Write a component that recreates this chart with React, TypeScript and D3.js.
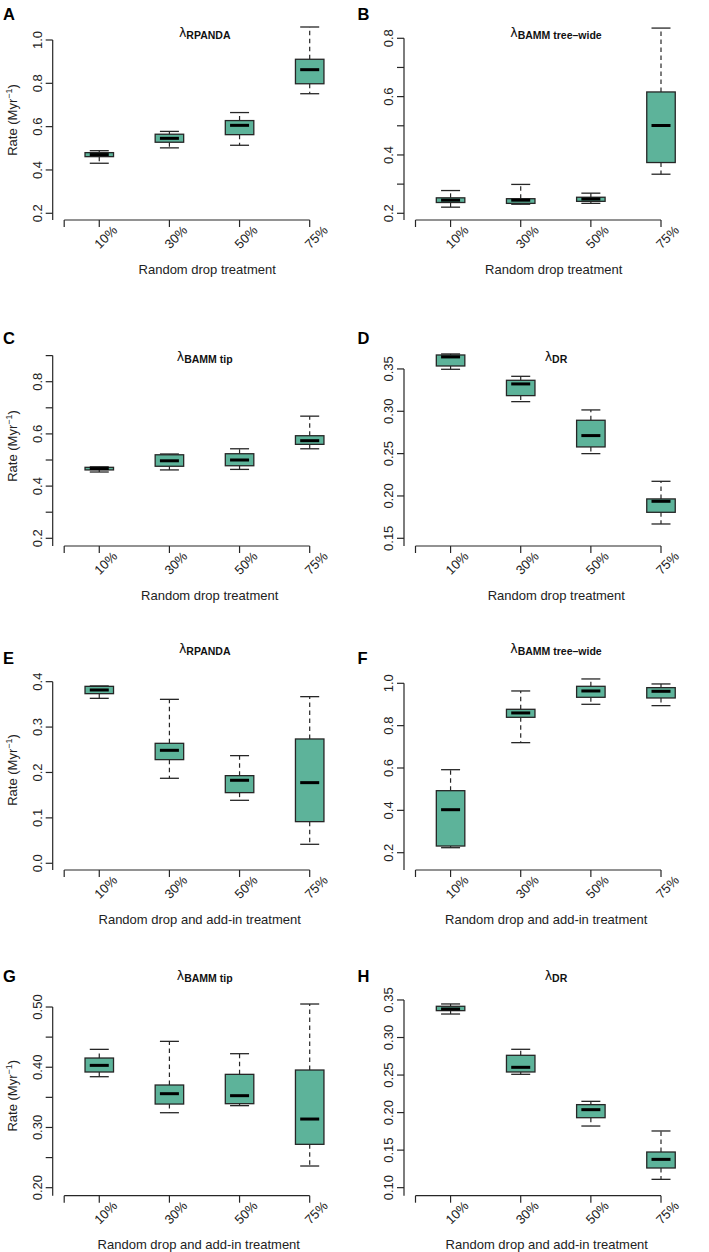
import React from "react";
import * as d3 from "d3";

// ---------- data (five-number summaries: lower whisker, Q1, median, Q3, upper whisker) ----------
const treatments = ["10%", "30%", "50%", "75%"];

const panelA = [
  [0.431, 0.4615, 0.471, 0.48, 0.489],
  [0.502, 0.528, 0.546, 0.565, 0.578],
  [0.514, 0.563, 0.606, 0.628, 0.665],
  [0.752, 0.798, 0.863, 0.911, 1.06],
];
const panelB = [
  [0.221, 0.237, 0.245, 0.253, 0.278],
  [0.231, 0.234, 0.245, 0.25, 0.299],
  [0.234, 0.241, 0.249, 0.255, 0.269],
  [0.334, 0.374, 0.501, 0.616, 0.835],
];
const panelC = [
  [0.454, 0.462, 0.467, 0.472, 0.474],
  [0.462, 0.476, 0.497, 0.52, 0.523],
  [0.464, 0.478, 0.5, 0.524, 0.543],
  [0.543, 0.56, 0.574, 0.593, 0.668],
];
const panelD = [
  [0.3496, 0.3535, 0.3642, 0.3665, 0.3677],
  [0.3114, 0.3185, 0.3323, 0.3366, 0.3413],
  [0.25, 0.2579, 0.2713, 0.2894, 0.3016],
  [0.1669, 0.1807, 0.1937, 0.1965, 0.2173],
];
const panelE = [
  [0.3633, 0.3736, 0.3817, 0.3897, 0.3905],
  [0.1872, 0.2283, 0.2488, 0.2642, 0.3611],
  [0.1387, 0.1556, 0.1828, 0.193, 0.2371],
  [0.0418, 0.0917, 0.1776, 0.2738, 0.367],
];
const panelF = [
  [0.2236, 0.2315, 0.4031, 0.4929, 0.592],
  [0.7197, 0.8394, 0.86, 0.8772, 0.9638],
  [0.9008, 0.9339, 0.9638, 0.9858, 1.0205],
  [0.8945, 0.9307, 0.9622, 0.9795, 0.9969],
];
const panelG = [
  [0.3843, 0.3921, 0.4031, 0.4153, 0.4297],
  [0.3245, 0.3389, 0.3561, 0.3705, 0.443],
  [0.3362, 0.3395, 0.3528, 0.3882, 0.4225],
  [0.236, 0.272, 0.314, 0.3954, 0.505],
];
const panelH = [
  [0.3313, 0.3358, 0.338, 0.3416, 0.3447],
  [0.251, 0.2541, 0.2603, 0.2763, 0.2843],
  [0.1821, 0.1932, 0.2039, 0.2106, 0.215],
  [0.1111, 0.1262, 0.1377, 0.1475, 0.1755],
];

// y-axis ticks and the subset that carries labels
const ticksA = [0.2, 0.4, 0.6, 0.8, 1.0];
const labelsA = [0.2, 0.4, 0.6, 0.8, 1.0];
const ticksB = [0.2, 0.3, 0.4, 0.5, 0.6, 0.7, 0.8];
const labelsB = [0.2, 0.4, 0.6, 0.8];
const ticksC = [0.2, 0.3, 0.4, 0.5, 0.6, 0.7, 0.8, 0.9];
const labelsC = [0.2, 0.4, 0.6, 0.8];
const ticksD = [0.15, 0.2, 0.25, 0.3, 0.35];
const labelsD = [0.15, 0.2, 0.25, 0.3, 0.35];
const ticksE = [0.0, 0.1, 0.2, 0.3, 0.4];
const labelsE = [0.0, 0.1, 0.2, 0.3, 0.4];
const ticksF = [0.2, 0.4, 0.6, 0.8, 1.0];
const labelsF = [0.2, 0.4, 0.6, 0.8, 1.0];
const ticksG = [0.2, 0.25, 0.3, 0.35, 0.4, 0.45, 0.5];
const labelsG = [0.2, 0.3, 0.4, 0.5];
const ticksH = [0.1, 0.15, 0.2, 0.25, 0.3, 0.35];
const labelsH = [0.1, 0.15, 0.2, 0.25, 0.3, 0.35];

const letters = ["A", "B", "C", "D", "E", "F", "G", "H"];
const subscripts = ["RPANDA", "BAMM tree\u2013wide", "BAMM tip", "DR", "RPANDA", "BAMM tree\u2013wide", "BAMM tip", "DR"];
const xTitles = ["Random drop treatment", "Random drop and add-in treatment"];

// ---------- layout ----------
const W = 709;
const H = 1252;
const COL_AXIS_X = [52.7, 404];
const ROW_AXIS_Y = [220, 546, 870, 1195.7];
const ROW_LETTER_Y = [20, 343.5, 664, 981.7];
const ROW_TITLE_Y = [37, 361, 653, 979.5];
const COL_LETTER_X = [3, 357.5];
const XTITLE_DX = [154.5, 149.7, 157, 152.3, 147, 142.2, 146.1, 142.8];
// value at x-axis line and value 200px above it
const Y_DOMAINS: [number, number][] = [
  [0.169, 1.0923],
  [0.177, 0.8627],
  [0.1705, 0.9368],
  [0.1409, 0.3771],
  [-0.0148, 0.4257],
  [0.1183, 1.0628],
  [0.1867, 0.5188],
  [0.0893, 0.3557],
];
const FORMATS = [".1f", ".1f", ".1f", ".2f", ".1f", ".1f", ".2f", ".2f"];

const panels = [panelA, panelB, panelC, panelD, panelE, panelF, panelG, panelH];
const tickSets = [ticksA, ticksB, ticksC, ticksD, ticksE, ticksF, ticksG, ticksH];
const labelSets = [labelsA, labelsB, labelsC, labelsD, labelsE, labelsF, labelsG, labelsH];

const FILL = "#5db39a";
const INK = "#262626";
const FONT = "'Liberation Sans', Arial, Helvetica, sans-serif";
const BOX_W = 28.5;
const CAP_W = 19;
const TICK = 7;

function Panel({ idx }: { idx: number }) {
  const col = idx % 2;
  const row = Math.floor(idx / 2);
  const ax = COL_AXIS_X[col];
  const ay = ROW_AXIS_Y[row];
  const data = panels[idx];
  const ticks = tickSets[idx];
  const labels = labelSets[idx];
  const fmt = d3.format(FORMATS[idx]);

  const y = d3.scaleLinear().domain(Y_DOMAINS[idx]).range([ay, ay - 200]);
  const x = d3.scaleLinear().domain([0.5, 4]).range([ax + 11.5, ax + 257]);
  const xTicks = [0.5, 1, 2, 3, 4];
  const topTick = d3.max(ticks) as number;

  return (
    <g>
      {/* panel letter */}
      <text x={COL_LETTER_X[col]} y={ROW_LETTER_Y[row]} fontFamily={FONT} fontWeight="bold" fontSize={16.5} fill="#000">
        {letters[idx]}
      </text>
      {/* title */}
      <text x={ax + 152} y={ROW_TITLE_Y[row]} textAnchor="middle" fontFamily={FONT} fill="#111">
        <tspan fontFamily="'DejaVu Sans', sans-serif" fontSize={12.5}>λ</tspan>
        <tspan fontWeight="bold" fontSize={10.5} dy={2}>{subscripts[idx]}</tspan>
      </text>

      {/* y axis */}
      <line x1={ax} x2={ax} y1={y(topTick)} y2={ay} stroke={INK} strokeWidth={1.2} />
      {ticks.map((t) => (
        <line key={"yt" + t} x1={ax - TICK} x2={ax} y1={y(t)} y2={y(t)} stroke={INK} strokeWidth={1.2} />
      ))}
      {labels.map((t) => (
        <text
          key={"yl" + t}
          transform={`translate(${ax - 11},${y(t)}) rotate(-90)`}
          textAnchor="middle"
          fontFamily={FONT}
          fontSize={13}
          fill="#222"
        >
          {fmt(t)}
        </text>
      ))}

      {/* x axis */}
      <line x1={x(0.5)} x2={x(4)} y1={ay} y2={ay} stroke={INK} strokeWidth={1.2} />
      {xTicks.map((t) => (
        <line key={"xt" + t} x1={x(t)} x2={x(t)} y1={ay} y2={ay + TICK} stroke={INK} strokeWidth={1.2} />
      ))}
      {treatments.map((lab, i) => (
        <text
          key={"xl" + lab}
          transform={`translate(${x(i + 1) + 6.5},${ay + 17}) rotate(-45)`}
          textAnchor="middle"
          dominantBaseline="central"
          fontFamily={FONT}
          fontSize={13}
          fill="#222"
        >
          {lab}
        </text>
      ))}
      <text x={ax + XTITLE_DX[idx]} y={ay + 53.5} textAnchor="middle" fontFamily={FONT} fontSize={13} fill="#222">
        {xTitles[row < 2 ? 0 : 1]}
      </text>
      {col === 0 && (
        <text
          transform={`translate(16.5,${ay - 100}) rotate(-90)`}
          textAnchor="middle"
          fontFamily={FONT}
          fontSize={13}
          fill="#222"
        >
          Rate (Myr<tspan fontSize={9} dy={-5}>−1</tspan>
          <tspan dy={5}>)</tspan>
        </text>
      )}

      {/* boxes */}
      {data.map((d, i) => {
        const cx = x(i + 1);
        const [lo, q1, med, q3, hi] = d;
        return (
          <g key={"b" + i}>
            <line x1={cx} x2={cx} y1={y(q3)} y2={y(hi)} stroke={INK} strokeWidth={1.2} strokeDasharray="4.5,3.5" />
            <line x1={cx} x2={cx} y1={y(q1)} y2={y(lo)} stroke={INK} strokeWidth={1.2} strokeDasharray="4.5,3.5" />
            <line x1={cx - CAP_W / 2} x2={cx + CAP_W / 2} y1={y(hi)} y2={y(hi)} stroke={INK} strokeWidth={1.3} />
            <line x1={cx - CAP_W / 2} x2={cx + CAP_W / 2} y1={y(lo)} y2={y(lo)} stroke={INK} strokeWidth={1.3} />
            <rect
              x={cx - BOX_W / 2}
              y={y(q3)}
              width={BOX_W}
              height={Math.max(0.5, y(q1) - y(q3))}
              fill={FILL}
              stroke={INK}
              strokeWidth={1.3}
            />
            <line x1={cx - CAP_W / 2} x2={cx + CAP_W / 2} y1={y(med)} y2={y(med)} stroke="#000" strokeWidth={3} />
          </g>
        );
      })}
    </g>
  );
}

export default function App() {
  return (
    <svg
      width={W}
      height={H}
      viewBox={`0 0 ${W} ${H}`}
      style={{ position: "absolute", left: 0, top: 0, background: "#fff" }}
    >
      <rect width={W} height={H} fill="#fff" />
      {letters.map((_, i) => (
        <Panel key={i} idx={i} />
      ))}
    </svg>
  );
}
